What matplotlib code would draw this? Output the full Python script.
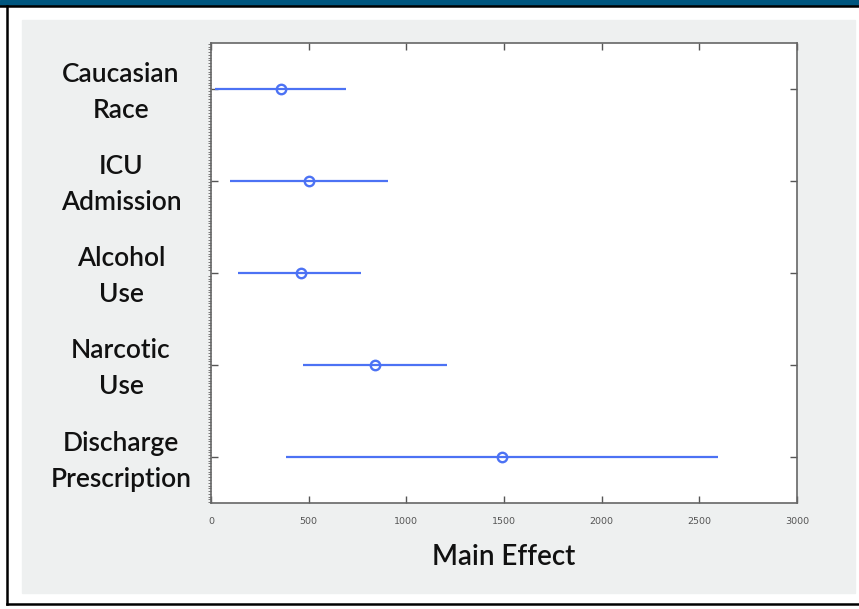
import numpy as np
import matplotlib.pyplot as plt
from matplotlib.patches import Rectangle
from matplotlib.ticker import MultipleLocator, NullFormatter
from matplotlib.transforms import ScaledTranslation

# data
factors = ["Caucasian\nRace", "ICU\nAdmission", "Alcohol\nUse",
           "Narcotic\nUse", "Discharge\nPrescription"]
effect = [360, 500, 460, 840, 1490]
lower = [20, 95, 140, 470, 385]
upper = [690, 905, 770, 1210, 2595]
xticks = [0, 500, 1000, 1500, 2000, 2500, 3000]

W, H = 859, 609
fig = plt.figure(figsize=(W / 100, H / 100), dpi=100)
fig.patch.set_facecolor("white")

# background frame in pixel coords: blue band, black border, grey panel
bg = fig.add_axes([0, 0, 1, 1], zorder=-5)
bg.set_xlim(0, W)
bg.set_ylim(H, 0)
bg.axis("off")
bg.add_patch(Rectangle((0, 0), W, 5, color="#00567f"))
bg.add_patch(Rectangle((22, 20), 833, 573, color="#eef0f0"))
bg.plot([0, W], [6, 6], color="black", lw=1.8)
bg.plot([7, 7], [6, 604], color="black", lw=1.8)
bg.plot([7, W], [604, 604], color="black", lw=1.8)

ax = fig.add_axes([211 / W, 1 - 503 / H, (797 - 211) / W, (503 - 43) / H])
ax.set_facecolor("white")

ypos = np.arange(1, len(factors) + 1)
blue = "#4c72f4"
err = [np.array(effect) - np.array(lower), np.array(upper) - np.array(effect)]
ax.errorbar(effect, ypos, xerr=err, fmt="o", color=blue, ecolor=blue,
            elinewidth=1.6, capsize=0, markersize=6.8, markerfacecolor="none",
            markeredgewidth=1.7, markeredgecolor=blue)

ax.set_xlim(0, 3000)
ax.set_ylim(5.5, 0.5)
ax.set_xticks(xticks)
ax.set_xticklabels([str(v) for v in xticks], fontsize=6.8, color="#555555",
                   fontfamily="DejaVu Sans")
ax.set_yticks(ypos)
ax.yaxis.set_major_formatter(NullFormatter())

# category labels as text, centred left of the axes, nudged down a bit
lab_tr = ax.get_yaxis_transform() + ScaledTranslation(0, -0.04, fig.dpi_scale_trans)
for y, name in zip(ypos, factors):
    ax.text(-0.1536, y, name, transform=lab_tr, ha="center", va="center",
            fontsize=19, color="#111111", fontweight="semibold",
            fontfamily="Lato", linespacing=1.55)

ax.yaxis.set_minor_locator(MultipleLocator(0.03))
ax.tick_params(axis="y", which="major", direction="in", length=5,
               width=1, color="#555555", right=True)
ax.tick_params(axis="y", which="minor", direction="out", length=2,
               width=0.6, color="#666666", right=False)
ax.tick_params(axis="x", which="major", direction="in", length=5, width=1,
               color="#555555", top=True, pad=10)

for s in ax.spines.values():
    s.set_color("#666666")
    s.set_linewidth(1.2)

ax.set_xlabel("Main Effect", fontsize=20, color="#111111", fontweight="semibold",
              fontfamily="Lato", labelpad=13)

fig.savefig("out.png", dpi=100)
